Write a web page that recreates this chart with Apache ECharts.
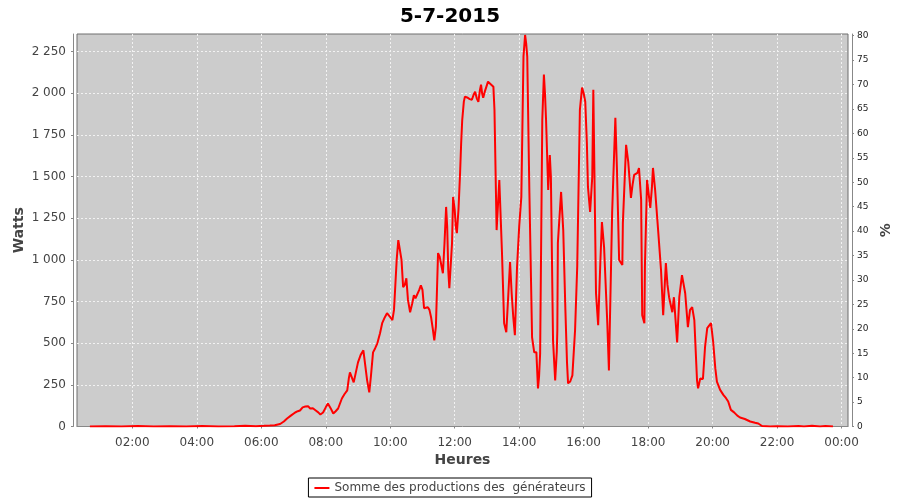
<!DOCTYPE html>
<html>
<head>
<meta charset="utf-8">
<script src="https://cdn.jsdelivr.net/npm/echarts@6/dist/echarts.min.js"></script>
<style>
  html, body { margin: 0; padding: 0; background: #ffffff; }
  #chart { width: 900px; height: 500px; }
</style>
</head>
<body>
<div id="chart"></div>
<script>
// ---- data ----
const times = [
  "00:41","01:10","01:40","02:10","02:40","03:10","03:40","04:10","04:40","05:10","05:30","05:50","06:05","06:16",
  "06:25","06:35","06:42","06:48","06:55","07:03","07:08","07:12","07:17","07:22","07:27","07:31","07:36","07:42",
  "07:46","07:50","07:55","08:00","08:04","08:09","08:14","08:18","08:23","08:30","08:35","08:40","08:43","08:45",
  "08:48","08:52","08:55","09:00","09:05","09:10","09:13","09:17","09:21","09:24","09:28","09:32","09:36","09:41",
  "09:45","09:50","09:54","10:00","10:04","10:07","10:09","10:12","10:15","10:18","10:21","10:24","10:27","10:30",
  "10:33","10:37","10:41","10:44","10:47","10:50","10:54","10:57","11:00","11:03","11:06","11:10","11:13","11:16",
  "11:19","11:22","11:25","11:29","11:32","11:35","11:38","11:41","11:44","11:46","11:48","11:50","11:53","11:55",
  "11:57","12:00","12:02","12:04","12:07","12:10","12:12","12:14","12:17","12:19","12:23","12:28","12:32","12:35",
  "12:38","12:41","12:44","12:47","12:49","12:51","12:53","12:56","12:59","13:02","13:04","13:07","13:10","13:12",
  "13:14","13:18","13:23","13:28","13:32","13:36","13:38","13:43","13:46","13:49","13:52","13:56","14:00","14:04",
  "14:06","14:08","14:11","14:13","14:15","14:19","14:24","14:28","14:32","14:35","14:37","14:39","14:43","14:46",
  "14:48","14:50","14:54","14:57","14:59","15:03","15:07","15:10","15:11","15:12","15:18","15:20","15:22","15:26",
  "15:29","15:31","15:35","15:39","15:44","15:48","15:53","15:57","16:00","16:03","16:06","16:08","16:12","16:16",
  "16:18","16:21","16:23","16:27","16:31","16:34","16:38","16:44","16:47","16:53","16:59","17:02","17:06","17:12",
  "17:13","17:19","17:23","17:28","17:31","17:34","17:40","17:43","17:47","17:49","17:53","17:54","17:58","18:04",
  "18:07","18:09","18:13","18:19","18:24","18:28","18:33","18:36","18:39","18:45","18:48","18:54","18:58","19:03",
  "19:09","19:14","19:18","19:22","19:26","19:31","19:33","19:37","19:42","19:46","19:50","19:53","19:57","20:01",
  "20:05","20:08","20:14","20:20","20:25","20:29","20:34","20:40","20:46","20:51","21:00","21:10","21:19","21:25",
  "21:32","21:47","22:00","22:20","22:40","22:50","23:05","23:20","23:30","23:44"
];
const watts = [
  0,2,0,3,0,2,0,3,0,2,4,2,4,6,
  8,15,30,48,65,84,92,96,115,120,122,108,110,95,
  85,72,84,115,138,110,78,90,108,168,195,217,290,325,
  320,265,259,385,430,457,445,277,205,300,445,470,499,560,
  620,656,680,656,638,700,818,1000,1119,1131,1000,836,850,890,
  760,686,740,788,770,776,820,848,820,710,720,716,700,656,
  590,517,600,1041,1020,1011,920,1100,1318,1200,939,830,818,1100,
  1378,1300,1200,1161,1300,1522,1700,1841,1950,1980,1975,1965,1961,1990,
  2010,1970,1949,2020,2052,2000,1973,2010,2040,2070,2082,2055,2046,2040,
  1901,1179,1480,1041,620,566,566,987,800,656,548,957,1200,1378,
  1800,2220,2350,2300,2220,1402,535,445,445,229,300,439,1841,2112,
  2000,1841,1420,1630,1500,517,277,450,578,1101,1408,1400,1179,700,
  385,259,270,307,578,957,1901,2034,2000,1949,1700,1438,1288,1498,
  2022,2010,800,608,981,1227,1077,620,337,1282,1853,1540,999,969,
  1221,1691,1588,1372,1450,1510,1522,1552,1360,668,620,957,1480,1312,
  1432,1552,1420,1161,939,668,981,850,776,686,776,505,776,909,
  800,596,700,716,638,277,229,289,285,480,590,600,620,510,
  350,270,220,190,170,150,100,85,65,54,45,30,22,18,
  3,0,2,0,3,0,4,0,3,0
];
const xTickMinutes = [120, 240, 360, 480, 600, 720, 840, 960, 1080, 1200, 1320, 1440];
const leftTicks = [0, 250, 500, 750, 1000, 1250, 1500, 1750, 2000, 2250];
const rightTicks = [0, 5, 10, 15, 20, 25, 30, 35, 40, 45, 50, 55, 60, 65, 70, 75, 80];
const seriesName = "Somme des productions des  générateurs";
const chartTitle = "5-7-2015";

// ---- build ----
function toMin(s) { const p = s.split(":"); return (+p[0]) * 60 + (+p[1]); }
const data = times.map((t, i) => [toMin(t), watts[i]]);
function fmtTime(v) {
  const m = Math.round(v) % 1440;
  const h = Math.floor(m / 60), mm = m % 60;
  return (h < 10 ? "0" : "") + h + ":" + (mm < 10 ? "0" : "") + mm;
}
function fmtThousands(v) { return String(v).replace(/\B(?=(\d{3})+(?!\d))/g, " "); }

const FONT = "DejaVu Sans";
const chart = echarts.init(document.getElementById("chart"), null, { renderer: "canvas" });
chart.setOption({
  animation: false,
  backgroundColor: "#ffffff",
  title: {
    text: chartTitle, left: "center", top: 2,
    textStyle: { fontFamily: FONT, fontSize: 20, fontWeight: "bold", color: "#000" }
  },
  grid: {
    left: 77, right: 52, top: 34, bottom: 73.5,
    outerBoundsMode: "none", containLabel: false,
    show: true, backgroundColor: "#cccccc", borderColor: "#6e6e6e", borderWidth: 1
  },
  legend: {
    bottom: 3, left: "center",
    data: [{ name: seriesName, icon: "rect" }],
    backgroundColor: "#ffffff", borderColor: "#000", borderWidth: 1,
    padding: [4, 6, 3, 6], itemWidth: 15, itemHeight: 2, itemGap: 4,
    textStyle: { fontFamily: FONT, fontSize: 12, color: "#444" }
  },
  xAxis: {
    type: "value", min: 17, max: 1452,
    name: "Heures", nameLocation: "middle", nameGap: 22,
    nameTextStyle: { fontFamily: FONT, fontSize: 14, fontWeight: "bold", color: "#444", verticalAlign: "top" },
    offset: 4,
    axisLine: { show: true, lineStyle: { color: "#888", width: 1 } },
    axisTick: { show: true, length: 2, customValues: xTickMinutes, lineStyle: { color: "#888" } },
    axisLabel: { customValues: xTickMinutes, formatter: fmtTime, margin: 6,
      fontFamily: FONT, fontSize: 12, color: "#444" },
    splitLine: { show: true, lineStyle: { color: "#f2f2f2", type: [2, 2], width: 1 } }
  },
  yAxis: [
    {
      type: "value", min: 0, max: 2356, position: "left",
      name: "Watts", nameLocation: "middle", nameGap: 47, nameMoveOverlap: false,
      nameTextStyle: { fontFamily: FONT, fontSize: 14, fontWeight: "bold", color: "#444" },
      offset: 4,
      axisLine: { show: true, lineStyle: { color: "#888", width: 1 } },
      axisTick: { show: true, length: 2, customValues: leftTicks, lineStyle: { color: "#888" } },
      axisLabel: { customValues: leftTicks, formatter: fmtThousands, margin: 7,
        fontFamily: FONT, fontSize: 12, color: "#444" },
      splitLine: { show: true, lineStyle: { color: "#f2f2f2", type: [2, 2], width: 1 } }
    },
    {
      type: "value", min: 0, max: 80.35, position: "right",
      name: "%", nameLocation: "middle", nameGap: 24,
      nameTextStyle: { fontFamily: FONT, fontSize: 14, fontWeight: "bold", color: "#444" },
      offset: 4,
      axisLine: { show: true, lineStyle: { color: "#888", width: 1 } },
      axisTick: { show: true, length: 2, customValues: rightTicks, lineStyle: { color: "#888" } },
      axisLabel: { customValues: rightTicks, margin: 5,
        fontFamily: FONT, fontSize: 9, color: "#222" },
      splitLine: { show: false }
    }
  ],
  series: [{
    name: seriesName, type: "line", yAxisIndex: 0,
    data: data, showSymbol: false, symbol: "none",
    lineStyle: { color: "#ff0000", width: 2 },
    itemStyle: { color: "#ff0000" },
    clip: true
  }]
});
</script>
</body>
</html>
